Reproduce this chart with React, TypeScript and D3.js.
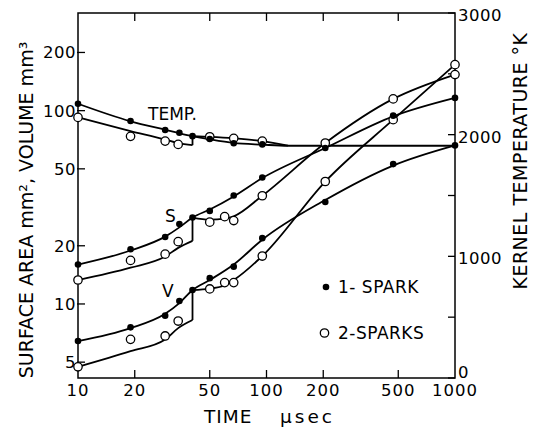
import React from 'react';
import * as d3 from 'd3';

const W = 538;
const H = 432;

// ---- 1-SPARK data (filled dots) ----
const time1 = [10, 19, 29, 34.5, 40.5, 50, 67, 95, 205, 470, 1000];
const surface1 = [16.0, 19.2, 22.2, 25.9, 28.0, 30.3, 36.4, 45.1, 64.1, 94.2, 116.4];
const volume1 = [6.43, 7.57, 8.7, 10.36, 11.8, 13.6, 15.6, 21.9, 33.7, 52.9, 66.1];
const tempTime1 = [10, 19, 29, 34.5, 40.5, 50, 67, 95];
const temp1 = [2254, 2112, 2038, 2016, 1988, 1964, 1929, 1920];

// ---- 2-SPARKS data (open circles) ----
const time2 = [10, 19, 29, 34, 50, 60, 67, 95, 205, 470, 1000];
const surface2 = [13.3, 16.8, 18.1, 21.0, 26.5, 28.3, 27.0, 36.3, 68.0, 115, 153.7];
const volume2 = [4.73, 6.56, 6.83, 8.16, 11.96, 12.9, 12.9, 17.7, 43.0, 89.8, 173];
const tempTime2 = [10, 19, 29, 34, 50, 67, 95];
const temp2 = [2142, 1986, 1947, 1920, 1983, 1970, 1947];

// ---- fitted curves (as drawn) ----
const fitTime1 = [10, 19, 29, 34.5, 40.5, 50, 67, 95, 205, 470, 1000];
const fitSurface1 = [16.0, 18.9, 22.3, 24.9, 28.0, 30.8, 36.0, 44.8, 64.1, 93.5, 116.4];
const fitVolume1 = [6.43, 7.5, 8.9, 10.1, 11.8, 13.3, 16.0, 21.5, 34.5, 52.0, 66.1];
const fitTempTime1 = [10, 19, 29, 34.5, 40.5, 50, 67, 95, 130, 1000];
const fitTemp1 = [2254, 2110, 2040, 2012, 1988, 1962, 1932, 1918, 1909, 1909];
const fitPreTime2 = [10, 19, 29, 34, 40.5];
const fitPreSurface2 = [13.3, 15.4, 17.6, 19.5, 21.2];
const fitPreVolume2 = [4.73, 5.7, 6.55, 7.5, 8.26];
const fitPreTemp2 = [2142, 2030, 1960, 1930, 1914];
const fitPostTime2 = [40.5, 50, 60, 67, 95, 205, 470, 1000];
const fitPostSurface2 = [28.0, 27.3, 27.6, 28.4, 36.3, 68.0, 115, 153.7];
const fitPostVolume2 = [11.8, 12.0, 12.5, 13.3, 17.7, 43.0, 89.8, 173];
const fitPostTempTime2 = [40.5, 50, 67, 95, 130];
const fitPostTemp2 = [1988, 1982, 1970, 1947, 1909];

// ---- ticks ----
const xTicks = [10, 20, 50, 100, 200, 500, 1000];
const yLeftTicks = [5, 10, 20, 50, 100, 200];
const yRightTicks = [0, 500, 1000, 1500, 2000, 2500, 3000];
const yRightLabels = [0, 1000, 2000, 3000];

const FONT = 'DejaVu Sans, Verdana, sans-serif';

export default function App() {
  const left = 78, right = 455, top = 13, bottom = 378;
  const x = d3.scaleLog().domain([10, 1000]).range([left, right]);
  const yL = d3.scaleLog().domain([4.14, 320]).range([bottom, top]);
  const yR = d3.scaleLinear().domain([0, 3000]).range([bottom, top]);

  const lineL = (ts: number[], vs: number[]) =>
    d3.line<number>().x((_, i) => x(ts[i])).y((v) => yL(v)).curve(d3.curveMonotoneX)(vs) || '';
  const lineR = (ts: number[], vs: number[]) =>
    d3.line<number>().x((_, i) => x(ts[i])).y((v) => yR(v)).curve(d3.curveMonotoneX)(vs) || '';

  const stepT = 40.5;
  const lines: string[] = [
    lineL(fitTime1, fitSurface1),
    lineL(fitTime1, fitVolume1),
    lineR(fitTempTime1, fitTemp1),
    lineL(fitPreTime2, fitPreSurface2),
    lineL(fitPreTime2, fitPreVolume2),
    lineR(fitPreTime2, fitPreTemp2),
    lineL(fitPostTime2, fitPostSurface2),
    lineL(fitPostTime2, fitPostVolume2),
    lineR(fitPostTempTime2, fitPostTemp2),
  ];
  // vertical steps at the second spark
  const steps = [
    [yL(fitPreSurface2[fitPreSurface2.length - 1]), yL(fitPostSurface2[0])],
    [yL(fitPreVolume2[fitPreVolume2.length - 1]), yL(fitPostVolume2[0])],
    [yR(fitPreTemp2[fitPreTemp2.length - 1]), yR(fitPostTemp2[0])],
  ];

  const filled: [number, number][] = [];
  time1.forEach((t, i) => { filled.push([x(t), yL(surface1[i])]); filled.push([x(t), yL(volume1[i])]); });
  tempTime1.forEach((t, i) => filled.push([x(t), yR(temp1[i])]));
  const open: [number, number][] = [];
  time2.forEach((t, i) => { open.push([x(t), yL(surface2[i])]); open.push([x(t), yL(volume2[i])]); });
  tempTime2.forEach((t, i) => open.push([x(t), yR(temp2[i])]));

  return (
    <svg width={W} height={H} style={{ position: 'absolute', left: 0, top: 0, background: '#fff' }}
      fontFamily={FONT}>
      <rect x={0} y={0} width={W} height={H} fill="#fff" />
      {/* frame */}
      <rect x={left} y={top} width={right - left} height={bottom - top} fill="none" stroke="#000" strokeWidth={1.5} />
      {/* x ticks */}
      {xTicks.map((t) => (
        <g key={'xt' + t}>
          {t !== 10 && t !== 1000 && (
            <>
              <line x1={x(t)} x2={x(t)} y1={bottom} y2={bottom - 8} stroke="#000" strokeWidth={1.3} />
              <line x1={x(t)} x2={x(t)} y1={top} y2={top + 8} stroke="#000" strokeWidth={1.3} />
            </>
          )}
          <text x={x(t)} y={396} textAnchor="middle" fontSize={16.5} letterSpacing={1}>{t}</text>
        </g>
      ))}
      {/* left ticks */}
      {yLeftTicks.map((v) => (
        <g key={'yl' + v}>
          <line x1={left - 1} x2={left + 7} y1={yL(v)} y2={yL(v)} stroke="#000" strokeWidth={1.3} />
          <text x={76} y={yL(v)} dy="0.36em" textAnchor="end" fontSize={16.5} letterSpacing={0.5}>{v}</text>
        </g>
      ))}
      {/* right ticks */}
      {yRightTicks.map((v) => (
        <line key={'yr' + v} x1={right - 7} x2={right} y1={yR(v)} y2={yR(v)} stroke="#000" strokeWidth={1.3} />
      ))}
      {yRightLabels.map((v) => (
        <text key={'yrl' + v} x={458} y={Math.min(yR(v) + 2, 372)} dy="0.36em" fontSize={16.5} letterSpacing={0.5}>{v}</text>
      ))}
      {/* curves */}
      {lines.map((d, i) => (
        <path key={'l' + i} d={d} fill="none" stroke="#000" strokeWidth={1.8} />
      ))}
      {steps.map(([y1, y2], i) => (
        <line key={'s' + i} x1={x(stepT)} x2={x(stepT)} y1={y1} y2={y2} stroke="#000" strokeWidth={1.8} />
      ))}
      {/* markers */}
      {open.map(([cx, cy], i) => (
        <circle key={'o' + i} cx={cx} cy={cy} r={4.2} fill="#fff" stroke="#000" strokeWidth={1.3} />
      ))}
      {filled.map(([cx, cy], i) => (
        <circle key={'f' + i} cx={cx} cy={cy} r={3.3} fill="#000" />
      ))}
      {/* in-plot labels */}
      <text x={148} y={120} fontSize={17}>TEMP.</text>
      <text x={165} y={222} fontSize={17}>S</text>
      <text x={162} y={297} fontSize={17}>V</text>
      {/* legend */}
      <circle cx={326} cy={287} r={3.3} fill="#000" />
      <text x={338} y={293} fontSize={17} letterSpacing={0.5}>1- SPARK</text>
      <circle cx={324.5} cy={333} r={4.2} fill="#fff" stroke="#000" strokeWidth={1.3} />
      <text x={338} y={339} fontSize={17} letterSpacing={0.5}>2-SPARKS</text>
      {/* axis titles */}
      <text x={204} y={423} fontSize={18.5} letterSpacing={1}>TIME</text>
      <text x={280} y={423} fontSize={18.5} letterSpacing={3}>μsec</text>
      <text transform="translate(33,210) rotate(-90)" textAnchor="middle" fontSize={19}>
        SURFACE AREA mm², VOLUME mm³
      </text>
      <text transform="translate(527,161) rotate(-90)" textAnchor="middle" fontSize={19} letterSpacing={0.5}>
        KERNEL TEMPERATURE °K
      </text>
    </svg>
  );
}
